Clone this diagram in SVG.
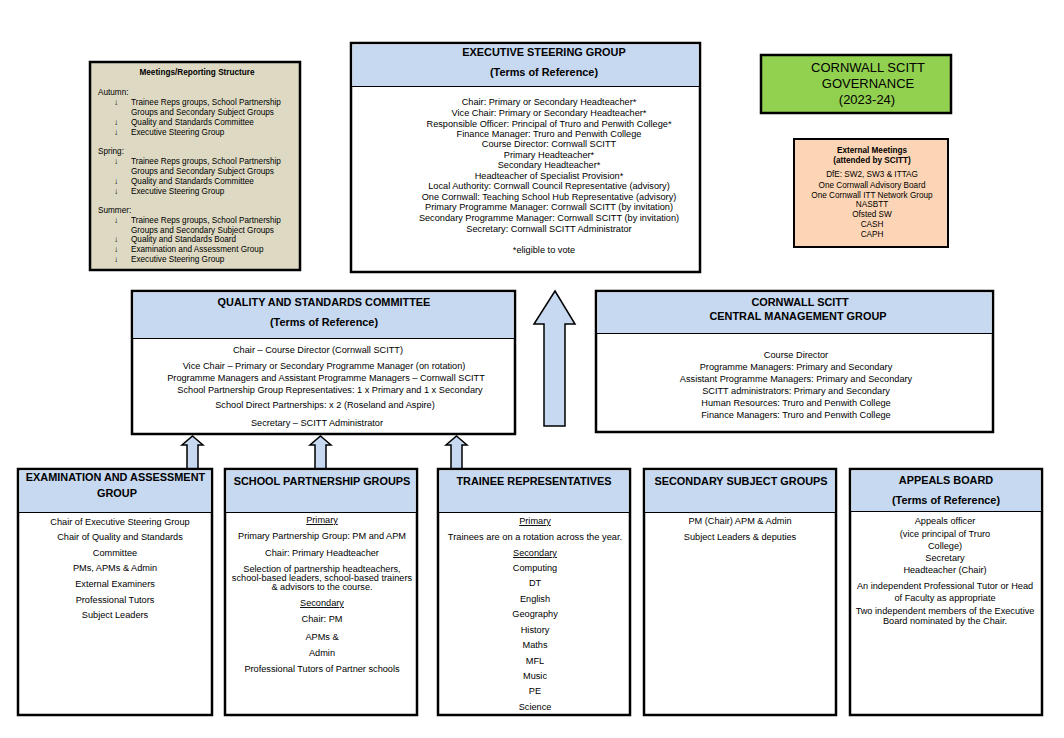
<svg xmlns="http://www.w3.org/2000/svg" width="1064" height="738" viewBox="0 0 1064 738">
<style>
text{font-family:"Liberation Sans",Arial,sans-serif;fill:#000}
.box{fill:#fff;stroke:#000;stroke-width:2.5}
.hdr{fill:#c6d9f0;stroke:none}
.sep{stroke:#000;stroke-width:1}
.t{font-size:10.9px;font-weight:bold;text-anchor:middle}
.b{font-size:9.2px;text-anchor:middle}
.m{font-size:8.2px}
.e{font-size:8.2px;text-anchor:middle}
.arr{fill:#c6d9f0;stroke:#000;stroke-width:1.5;stroke-linejoin:miter}
</style>
<rect width="1064" height="738" fill="#fff"/>

<g id="meetings">
<rect x="90" y="62" width="210" height="208" fill="#ddd9c3" stroke="#000" stroke-width="2.5"/>
<text x="197" y="75" class="m" font-weight="bold" text-anchor="middle">Meetings/Reporting Structure</text>
<g class="m">
<text x="98" y="95">Autumn:</text>
<text x="114" y="105">↓</text><text x="131" y="105">Trainee Reps groups, School Partnership</text>
<text x="131" y="115">Groups and Secondary Subject Groups</text>
<text x="114" y="125">↓</text><text x="131" y="125">Quality and Standards Committee</text>
<text x="114" y="135">↓</text><text x="131" y="135">Executive Steering Group</text>
<text x="98" y="154">Spring:</text>
<text x="114" y="164">↓</text><text x="131" y="164">Trainee Reps groups, School Partnership</text>
<text x="131" y="174">Groups and Secondary Subject Groups</text>
<text x="114" y="184">↓</text><text x="131" y="184">Quality and Standards Committee</text>
<text x="114" y="194">↓</text><text x="131" y="194">Executive Steering Group</text>
<text x="98" y="213">Summer:</text>
<text x="114" y="223">↓</text><text x="131" y="223">Trainee Reps groups, School Partnership</text>
<text x="131" y="233">Groups and Secondary Subject Groups</text>
<text x="114" y="242">↓</text><text x="131" y="242">Quality and Standards Board</text>
<text x="114" y="252">↓</text><text x="131" y="252">Examination and Assessment Group</text>
<text x="114" y="262">↓</text><text x="131" y="262">Executive Steering Group</text>
</g>
</g>

<g id="executive">
<rect x="351" y="43" width="349" height="229" class="box"/>
<rect x="352.5" y="44.5" width="346" height="41.5" class="hdr"/>
<line x1="351" y1="86.5" x2="700" y2="86.5" class="sep"/>
<text x="544" y="56" class="t">EXECUTIVE STEERING GROUP</text>
<text x="544" y="76" class="t">(Terms of Reference)</text>
<g class="b" font-size="9.4">
<text x="549" y="105">Chair: Primary or Secondary Headteacher*</text>
<text x="549" y="116">Vice Chair: Primary or Secondary Headteacher*</text>
<text x="549" y="127">Responsible Officer: Principal of Truro and Penwith College*</text>
<text x="549" y="137">Finance Manager: Truro and Penwith College</text>
<text x="549" y="147">Course Director: Cornwall SCITT</text>
<text x="549" y="158">Primary Headteacher*</text>
<text x="549" y="168">Secondary Headteacher*</text>
<text x="549" y="179">Headteacher of Specialist Provision*</text>
<text x="549" y="189">Local Authority: Cornwall Council Representative (advisory)</text>
<text x="549" y="200">One Cornwall: Teaching School Hub Representative (advisory)</text>
<text x="549" y="210">Primary Programme Manager: Cornwall SCITT (by invitation)</text>
<text x="549" y="221">Secondary Programme Manager: Cornwall SCITT (by invitation)</text>
<text x="549" y="232">Secretary: Cornwall SCITT Administrator</text>
<text x="544" y="253">*eligible to vote</text>
</g>
</g>

<g id="governance">
<rect x="761" y="55" width="190" height="58" fill="#92d050" stroke="#000" stroke-width="2.5"/>
<text x="868" y="72" font-size="13" text-anchor="middle">CORNWALL SCITT</text>
<text x="868" y="88" font-size="13" text-anchor="middle">GOVERNANCE</text>
<text x="867" y="104" font-size="13" text-anchor="middle">(2023-24)</text>
</g>

<g id="external">
<rect x="794" y="139" width="154" height="108" fill="#fbd5b5" stroke="#000" stroke-width="2"/>
<text x="872" y="153" class="e" font-weight="bold">External Meetings</text>
<text x="872" y="163" class="e" font-weight="bold">(attended by SCITT)</text>
<text x="872" y="177" class="e">DfE: SW2, SW3 &amp; ITTAG</text>
<text x="872" y="188" class="e">One Cornwall Advisory Board</text>
<text x="872" y="198" class="e">One Cornwall ITT Network Group</text>
<text x="872" y="207" class="e">NASBTT</text>
<text x="872" y="217" class="e">Ofsted SW</text>
<text x="872" y="227" class="e">CASH</text>
<text x="872" y="237" class="e">CAPH</text>
</g>

<g id="connectors">
<path class="arr" d="M555,291 L575,324 L565,324 L565,426 L544,426 L544,324 L534,324 Z"/>
<path class="arr" d="M192.5,436 L203,445 L198,445 L198,469 L187,469 L187,445 L182,445 Z"/>
<path class="arr" d="M320.5,436 L331,445 L326,445 L326,469 L315,469 L315,445 L310,445 Z"/>
<path class="arr" d="M456.5,436 L467,445 L462,445 L462,469 L451,469 L451,445 L446,445 Z"/>
</g>

<g id="quality">
<rect x="132" y="291" width="383" height="143" class="box"/>
<rect x="133.5" y="292.5" width="380" height="45.5" class="hdr"/>
<line x1="132" y1="338.5" x2="515" y2="338.5" class="sep"/>
<text x="324" y="306" class="t">QUALITY AND STANDARDS COMMITTEE</text>
<text x="324" y="326" class="t">(Terms of Reference)</text>
<g class="b" font-size="9.6">
<text x="318" y="353">Chair – Course Director (Cornwall SCITT)</text>
<text x="324" y="369">Vice Chair – Primary or Secondary Programme Manager (on rotation)</text>
<text x="326" y="381">Programme Managers and Assistant Programme Managers – Cornwall SCITT</text>
<text x="330" y="393">School Partnership Group Representatives: 1 x Primary and 1 x Secondary</text>
<text x="325" y="408">School Direct Partnerships: x 2 (Roseland and Aspire)</text>
<text x="317" y="426">Secretary – SCITT Administrator</text>
</g>
</g>

<g id="central">
<rect x="596" y="291" width="397" height="141" class="box"/>
<rect x="597.5" y="292.5" width="394" height="40.5" class="hdr"/>
<line x1="596" y1="333.5" x2="993" y2="333.5" class="sep"/>
<text x="800" y="306" class="t" font-size="11.2">CORNWALL SCITT</text>
<text x="798" y="320" class="t" font-size="11.2">CENTRAL MANAGEMENT GROUP</text>
<g class="b">
<text x="796" y="358">Course Director</text>
<text x="796" y="370">Programme Managers: Primary and Secondary</text>
<text x="796" y="382">Assistant Programme Managers: Primary and Secondary</text>
<text x="796" y="394">SCITT administrators: Primary and Secondary</text>
<text x="796" y="406">Human Resources: Truro and Penwith College</text>
<text x="796" y="418">Finance Managers: Truro and Penwith College</text>
</g>
</g>

<g id="exam">
<rect x="18" y="469" width="194" height="246" class="box"/>
<rect x="19.5" y="470.5" width="191" height="41.5" class="hdr"/>
<line x1="18" y1="512.5" x2="212" y2="512.5" class="sep"/>
<text x="115.5" y="481" class="t" font-size="11.2">EXAMINATION AND ASSESSMENT</text>
<text x="117" y="497" class="t" font-size="11.2">GROUP</text>
<g class="b">
<text x="120" y="525">Chair of Executive Steering Group</text>
<text x="120" y="540">Chair of Quality and Standards</text>
<text x="115" y="556">Committee</text>
<text x="115" y="571">PMs, APMs &amp; Admin</text>
<text x="115" y="587">External Examiners</text>
<text x="115" y="603">Professional Tutors</text>
<text x="115" y="618">Subject Leaders</text>
</g>
</g>

<g id="partnership">
<rect x="225" y="469" width="192" height="246" class="box"/>
<rect x="226.5" y="470.5" width="189" height="41.5" class="hdr"/>
<line x1="225" y1="512.5" x2="417" y2="512.5" class="sep"/>
<text x="322" y="485" class="t">SCHOOL PARTNERSHIP GROUPS</text>
<g class="b">
<text x="322" y="523" text-decoration="underline">Primary</text>
<text x="322" y="539">Primary Partnership Group: PM and APM</text>
<text x="322" y="556">Chair: Primary Headteacher</text>
<text x="322" y="572">Selection of partnership headteachers,</text>
<text x="322" y="581">school-based leaders, school-based trainers</text>
<text x="322" y="590">&amp; advisors to the course.</text>
<text x="322" y="606" text-decoration="underline">Secondary</text>
<text x="322" y="622">Chair: PM</text>
<text x="322" y="640">APMs &amp;</text>
<text x="322" y="656">Admin</text>
<text x="322" y="672">Professional Tutors of Partner schools</text>
</g>
</g>

<g id="trainee">
<rect x="438" y="469" width="192" height="246" class="box"/>
<rect x="439.5" y="470.5" width="189" height="41.5" class="hdr"/>
<line x1="438" y1="512.5" x2="630" y2="512.5" class="sep"/>
<text x="534" y="485" class="t">TRAINEE REPRESENTATIVES</text>
<g class="b">
<text x="535" y="524" text-decoration="underline">Primary</text>
<text x="535" y="540" font-size="9.3">Trainees are on a rotation across the year.</text>
<text x="535" y="556" text-decoration="underline">Secondary</text>
<text x="535" y="571">Computing</text>
<text x="535" y="586">DT</text>
<text x="535" y="602">English</text>
<text x="535" y="617">Geography</text>
<text x="535" y="633">History</text>
<text x="535" y="648">Maths</text>
<text x="535" y="664">MFL</text>
<text x="535" y="679">Music</text>
<text x="535" y="694">PE</text>
<text x="535" y="710">Science</text>
</g>
</g>

<g id="secondary">
<rect x="644" y="469" width="192" height="246" class="box"/>
<rect x="645.5" y="470.5" width="189" height="41.5" class="hdr"/>
<line x1="644" y1="512.5" x2="836" y2="512.5" class="sep"/>
<text x="741" y="485" class="t">SECONDARY SUBJECT GROUPS</text>
<g class="b">
<text x="740" y="524">PM (Chair) APM &amp; Admin</text>
<text x="740" y="540">Subject Leaders &amp; deputies</text>
</g>
</g>

<g id="appeals">
<rect x="850" y="469" width="192" height="246" class="box"/>
<rect x="851.5" y="470.5" width="189" height="40.5" class="hdr"/>
<line x1="850" y1="511.5" x2="1042" y2="511.5" class="sep"/>
<text x="946" y="484" class="t">APPEALS BOARD</text>
<text x="946" y="504" class="t">(Terms of Reference)</text>
<g class="b">
<text x="945" y="524">Appeals officer</text>
<text x="945" y="537">(vice principal of Truro</text>
<text x="945" y="549">College)</text>
<text x="945" y="561">Secretary</text>
<text x="945" y="573">Headteacher (Chair)</text>
<text x="945" y="589">An independent Professional Tutor or Head</text>
<text x="945" y="601">of Faculty as appropriate</text>
<text x="945" y="614">Two independent members of the Executive</text>
<text x="945" y="624">Board nominated by the Chair.</text>
</g>
</g>
</svg>
